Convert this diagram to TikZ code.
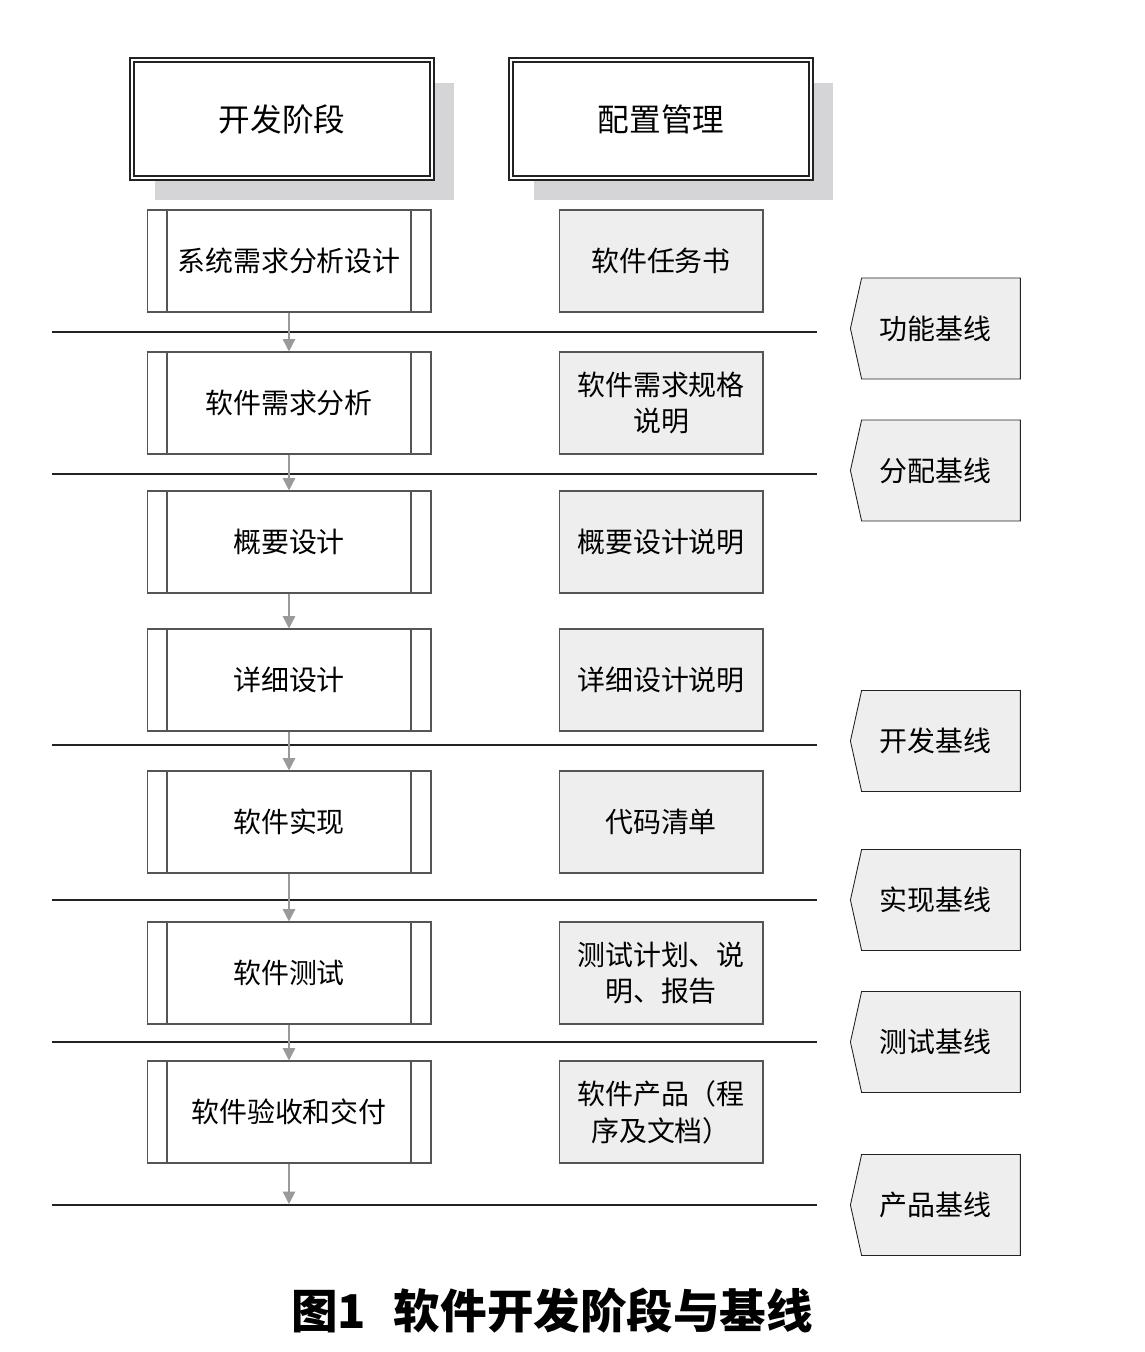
\documentclass[tikz,border=0pt]{standalone}
\usepackage{fontspec}
\setmainfont{Noto Sans CJK SC}
\usetikzlibrary{positioning, arrows.meta, shapes.symbols, shadows}
\definecolor{Ink}{HTML}{222222}
\definecolor{Frame}{HTML}{555555}
\definecolor{Paper}{HTML}{EEEEEE}
\definecolor{Shade}{HTML}{D5D5D7}
\definecolor{Flow}{HTML}{9A9A9A}
\tikzset{
    headnode/.style={rectangle, draw=Ink, line width=0.7pt, double=white, double distance=1.6pt, fill=white, minimum width=6cm, minimum height=2.36cm, font=\fontsize{18}{22}\selectfont,
        drop shadow={shadow xshift=0.45cm, shadow yshift=-0.45cm, fill=Shade, opacity=1}},
    procnode/.style={rectangle, draw=Frame, line width=0.6pt, minimum width=5.68cm, minimum height=2.04cm, font=\fontsize{15.9}{21}\selectfont,
        path picture={\draw[Frame, line width=0.6pt]
            ([xshift=0.4cm]path picture bounding box.north west) -- ([xshift=0.4cm]path picture bounding box.south west)
            ([xshift=-0.4cm]path picture bounding box.north east) -- ([xshift=-0.4cm]path picture bounding box.south east);}},
    docnode/.style={rectangle, draw=Frame, line width=0.6pt, fill=Paper, minimum width=4.08cm, minimum height=2.04cm, align=center, font=\fontsize{15.9}{21}\selectfont},
    basenode/.style={signal, signal to=west, signal pointer angle=155, draw=Ink, line width=0.5pt, fill=Paper, minimum width=3.4cm, minimum height=2.02cm, inner sep=0pt, font=\fontsize{15.9}{21}\selectfont,
        execute at end node={\hspace{0.22cm}}},
    flowarrow/.style={-{Triangle[width=7pt,length=7pt]}, Flow, line width=0.8pt},
    sepline/.style={Ink, line width=0.6pt},
}
\begin{document}
\begin{tikzpicture}[x=0.02cm, y=-0.02cm]
    \useasboundingbox (0,0) rectangle (1145,1352);
    % Titoli
    \node[headnode] (devhead) at (282,119) {开发阶段};
    \node[headnode] (cfghead) at (661,119) {配置管理};

    % Fasi di sviluppo
    \node[procnode] (sysreq) at (289,261) {系统需求分析设计};
    \node[procnode] (swreq) at (289,403) {软件需求分析};
    \node[procnode] (outline) at (289,542) {概要设计};
    \node[procnode] (detail) at (289,680) {详细设计};
    \node[procnode] (impl) at (289,822) {软件实现};
    \node[procnode] (test) at (289,973) {软件测试};
    \node[procnode] (deliver) at (289,1112) {软件验收和交付};

    % Documenti
    \node[docnode] (taskdoc) at (661,261) {软件任务书};
    \node[docnode] (specdoc) at (661,403) {软件需求规格\\说明};
    \node[docnode] (outdoc) at (661,542) {概要设计说明};
    \node[docnode] (detdoc) at (661,680) {详细设计说明};
    \node[docnode] (codedoc) at (661,822) {代码清单};
    \node[docnode] (testdoc) at (661,973) {测试计划、说\\明、报告};
    \node[docnode] (proddoc) at (661,1112) {软件产品（程\\序及文档）};

    % Linee di base
    \draw[sepline] (52,332) -- (817,332);
    \draw[sepline] (52,474) -- (817,474);
    \draw[sepline] (52,745) -- (817,745);
    \draw[sepline] (52,900) -- (817,900);
    \draw[sepline] (52,1042) -- (817,1042);
    \draw[sepline] (52,1205) -- (817,1205);
    \coordinate (endline) at (289,1204);

    \node[basenode] (funcbase) at (941,328.5) {功能基线};
    \node[basenode] (allocbase) at (941,470.5) {分配基线};
    \node[basenode] (devbase) at (941,741) {开发基线};
    \node[basenode] (implbase) at (941,900) {实现基线};
    \node[basenode] (testbase) at (941,1042) {测试基线};
    \node[basenode] (prodbase) at (941,1205) {产品基线};

    % Frecce
    \draw[flowarrow] (sysreq) -- (swreq);
    \draw[flowarrow] (swreq) -- (outline);
    \draw[flowarrow] (outline) -- (detail);
    \draw[flowarrow] (detail) -- (impl);
    \draw[flowarrow] (impl) -- (test);
    \draw[flowarrow] (test) -- (deliver);
    \draw[flowarrow] (deliver) -- (endline);

    % Didascalia
    \node[font=\fontsize{26.5}{31}\selectfont\bfseries] (caption) at (552,1311) {图1\hspace{0.6em}软件开发阶段与基线};
\end{tikzpicture}
\end{document}
